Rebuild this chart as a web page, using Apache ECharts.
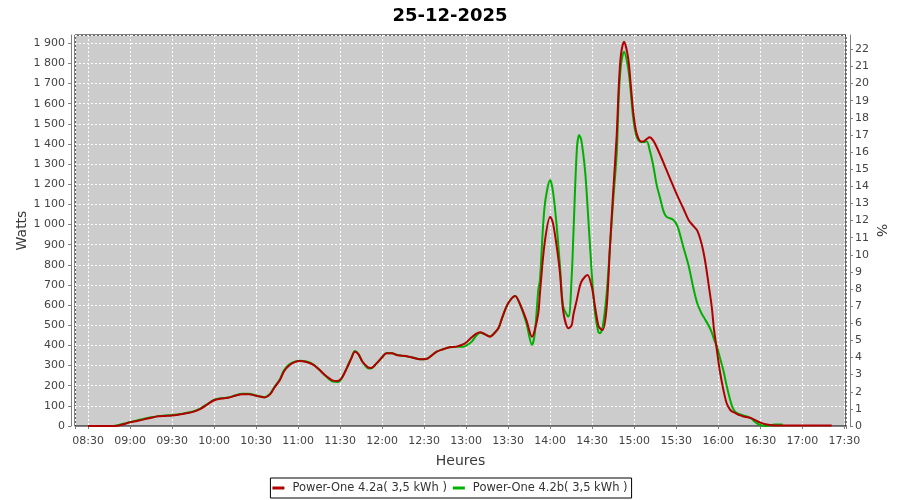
<!DOCTYPE html>
<html><head><meta charset="utf-8">
<script src="https://cdn.jsdelivr.net/npm/echarts@6/dist/echarts.min.js"></script>
<style>html,body{margin:0;padding:0;background:#fff}#c{width:900px;height:500px}</style>
</head><body><div id="c"></div><script>
const chartTitle = '25-12-2025';
const seriesNames = ['Power-One 4.2a( 3,5 kWh )', 'Power-One 4.2b( 3,5 kWh )'];
const xName = 'Heures';
const yName = 'Watts';
const y2Name = '%';
const times = ['08:30','08:40','08:48','08:52','08:56','09:00','09:05','09:10','09:15','09:20','09:25','09:30','09:35','09:40','09:45','09:50','09:55','10:00','10:05','10:10','10:15','10:20','10:25','10:30','10:36','10:40','10:43','10:47','10:50','10:54','10:58','11:01','11:06','11:11','11:15','11:20','11:25','11:28','11:31','11:35','11:38','11:40:30','11:43','11:46','11:50','11:52','11:56','12:00','12:03','12:07','12:11','12:17','12:22','12:27','12:32','12:35','12:39','12:44','12:48','12:53','12:58','13:00','13:04','13:07','13:10','13:13','13:17','13:19','13:23','13:26','13:30','13:35','13:38','13:43','13:47','13:49','13:51:30','13:52:40','13:56','14:00','14:02','14:04:40','14:07','14:09:20','14:13','14:15:20','14:16:30','14:19','14:20:40','14:22:10','14:24:50','14:26:40','14:29:40','14:32','14:34:20','14:35:30','14:37:30','14:40:20','14:42:40','14:45','14:47:30','14:49','14:50:30','14:52:40','14:55:40','14:57:30','14:59','15:00:30','15:02','15:04','15:06:30','15:09','15:11','15:13:30','15:16','15:18:30','15:21','15:23','15:28','15:31','15:35','15:39','15:42','15:45','15:48','15:50:30','15:53','15:55:20','15:57','15:59','16:01','16:03:40','16:06','16:08:30','16:10','16:12','16:14','16:17','16:19','16:21','16:24','16:26','16:28:30','16:30','16:33','16:37','16:40','16:46','16:50','17:00','17:10','17:21'];
const redWatts = [0,0,0,3,10,18,25,33,41,48,50,52,57,63,70,84,106,128,136,140,150,158,158,150,142,157,190,228,272,303,318,323,318,303,280,248,225,223,237,290,336,369,357,319,291,288,311,341,361,361,351,348,339,331,334,348,369,382,391,394,406,415,440,457,465,457,443,453,485,543,609,645,612,526,443,477,560,659,907,1039,1006,890,758,568,485,501,550,626,680,715,741,750,692,592,500,485,477,592,890,1165,1445,1693,1842,1908,1826,1693,1577,1494,1445,1415,1412,1425,1433,1418,1385,1346,1305,1271,1188,1140,1081,1020,995,970,907,824,708,592,477,377,278,179,113,80,71,65,57,50,46,43,38,30,21,17,10,5,3,2,2,2,2,2];
const greenWatts = [0,0,0,5,12,20,28,36,43,49,52,55,58,65,72,86,108,130,138,141,152,160,160,151,143,160,192,232,278,308,320,324,320,305,280,246,220,218,235,292,338,372,358,318,286,285,310,341,361,361,352,346,340,331,334,348,369,382,391,394,394,399,419,447,463,457,445,453,485,543,609,645,612,510,402,460,675,725,1089,1221,1163,990,791,592,543,741,940,1370,1445,1420,1271,1090,758,560,468,460,493,659,890,1122,1354,1640,1790,1858,1776,1660,1544,1470,1430,1412,1410,1412,1370,1296,1197,1130,1064,1039,1023,990,890,791,692,609,560,530,500,465,430,395,344,275,200,129,95,71,62,55,50,46,35,21,9,5,0,2,8,8,null,null,null,null];
const xMinTime = '08:20:42';
const xMaxTime = '17:31:12';
const yMaxWatts = 1941;
const wattsPerPercent = 85;

function toMin(s){const p=s.split(':').map(Number);return p[0]*60+p[1]+(p[2]||0)/60;}
function hhmm(v){const m=Math.round(v);const h=Math.floor(m/60), mm=m%60;return (h<10?'0':'')+h+':'+(mm<10?'0':'')+mm;}
function sep(v){return String(Math.round(v)).replace(/\B(?=(\d{3})+(?!\d))/g,' ');}

const font = 'DejaVu Sans';
const axisGrey = '#808080';
const lblColor = '#444';
const chart = echarts.init(document.getElementById('c'));
const option = {
  animation:false,
  title:{text:chartTitle,left:'center',top:2,textStyle:{fontFamily:font,fontSize:18,fontWeight:'bold',color:'#000'}},
  legend:{data:seriesNames.map(n=>({name:n,icon:'rect'})),bottom:2,left:'center',borderColor:'#000',borderWidth:1,padding:[4,4,4,2],itemGap:6,itemWidth:12,itemHeight:3,
    textStyle:{fontFamily:font,fontSize:11.5,color:'#333',padding:[0,0,0,3]}},
  grid:{left:75,right:54,top:35,bottom:74,show:true,backgroundColor:'#CCCCCC',borderColor:'#000',borderWidth:1},
  xAxis:{type:'value',min:toMin(xMinTime),max:toMin(xMaxTime),minInterval:30,maxInterval:30,splitNumber:18,offset:4,
    name:xName,nameLocation:'middle',nameGap:24,nameTextStyle:{fontFamily:font,fontSize:14,color:'#3a3a3a'},
    axisLine:{lineStyle:{color:axisGrey}},axisTick:{length:3,lineStyle:{color:axisGrey}},
    axisLabel:{fontFamily:font,fontSize:11,color:lblColor,margin:6,
      formatter:v=>Math.abs(v-Math.round(v/30)*30)<0.01?hhmm(v):''},
    splitLine:{show:true,lineStyle:{color:'#fff',type:[2,2],width:1}}},
  yAxis:[
    {type:'value',min:0,max:yMaxWatts,interval:100,offset:4,position:'left',
      name:yName,nameLocation:'middle',nameGap:42,nameMoveOverlap:false,nameTextStyle:{fontFamily:font,fontSize:14,color:'#3a3a3a'},
      axisLine:{show:true,lineStyle:{color:axisGrey}},axisTick:{show:true,length:3,lineStyle:{color:axisGrey}},
      axisLabel:{fontFamily:font,fontSize:11,color:lblColor,margin:6,showMaxLabel:false,
        formatter:v=>Math.abs(v-Math.round(v/100)*100)<0.01?sep(v):''},
      splitLine:{show:true,lineStyle:{color:'#fff',type:[2,2],width:1}}},
    {type:'value',min:0,max:yMaxWatts/wattsPerPercent,interval:1,offset:4,position:'right',
      name:y2Name,nameLocation:'middle',nameGap:24,nameMoveOverlap:false,nameRotate:-90,nameTextStyle:{fontFamily:font,fontSize:14,color:'#3a3a3a'},
      axisLine:{show:true,lineStyle:{color:axisGrey}},axisTick:{show:true,length:3,lineStyle:{color:axisGrey}},
      axisLabel:{fontFamily:font,fontSize:11,color:lblColor,margin:5,showMaxLabel:false,
        formatter:v=>Math.abs(v-Math.round(v))<0.01?String(Math.round(v)):''},
      splitLine:{show:false}}
  ],
  series:[
    {name:seriesNames[0],type:'line',data:times.map((t,i)=>[toMin(t),redWatts[i]]),symbol:'none',smooth:0.3,
      lineStyle:{color:'#B00000',width:2},itemStyle:{color:'#B00000'},z:3},
    {name:seriesNames[1],type:'line',data:times.map((t,i)=>[toMin(t),greenWatts[i]]),symbol:'none',smooth:0.3,
      lineStyle:{color:'#00B000',width:2},itemStyle:{color:'#00B000'},z:2}
  ]
};
chart.setOption(option);
</script></body></html>
